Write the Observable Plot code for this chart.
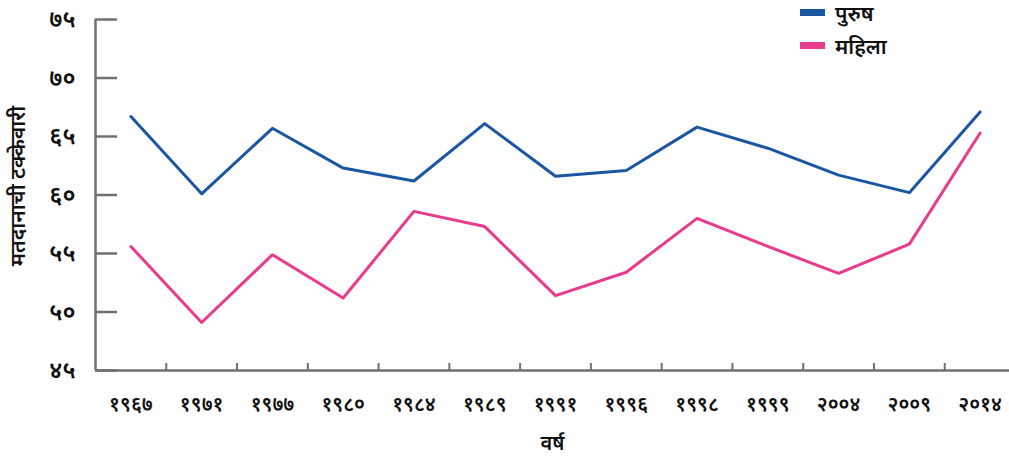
<!DOCTYPE html>
<html>
<head>
<meta charset="utf-8">
<script src="https://cdn.jsdelivr.net/npm/d3@7"></script>
<script src="https://cdn.jsdelivr.net/npm/@observablehq/plot@0.6"></script>
<style>
  html, body { margin: 0; padding: 0; background: #fff; }
  #wrap { position: relative; width: 1009px; height: 457px; font-family: "Noto Sans", "DejaVu Sans", sans-serif; }
  #legend { position: absolute; left: 800px; top: -4px; font-size: 21px; font-weight: 600; color: #111; }
  .item { display: flex; align-items: center; height: 33px; }
  .sw { width: 25px; height: 7px; margin-right: 10px; }
</style>
</head>
<body>
<div id="wrap"><div id="legend"></div></div>
<script>
const years = ["१९६७","१९७१","१९७७","१९८०","१९८४","१९८९","१९९१","१९९६","१९९८","१९९९","२००४","२००९","२०१४"];
const male   = [66.7, 60.1, 65.7, 62.3, 61.2, 66.1, 61.6, 62.1, 65.8, 64.0, 61.7, 60.2, 67.1];
const female = [55.6, 49.1, 54.9, 51.2, 58.6, 57.3, 51.4, 53.4, 58.0, 55.6, 53.3, 55.8, 65.3];
const yTicks = [45, 50, 55, 60, 65, 70, 75];
const yTickLabels = ["४५","५०","५५","६०","६५","७०","७५"];
const seriesNames = ["पुरुष", "महिला"];
const seriesColors = ["#1b56a3", "#ea3a8d"];
const yTitle = "मतदानाची टक्केवारी";
const xTitle = "वर्ष";

const idx = years.map((_, i) => i);
const data = [];
idx.forEach(i => data.push({i, v: male[i], s: seriesNames[0]}));
idx.forEach(i => data.push({i, v: female[i], s: seriesNames[1]}));
const between = idx.slice(0, -1).map(i => i + 0.5);

const axisColor = "#707070";
const chart = Plot.plot({
  width: 1009,
  height: 457,
  marginLeft: 95,
  marginRight: 0,
  marginTop: 19,
  marginBottom: 87,
  style: {fontFamily: "'Noto Sans', 'DejaVu Sans', sans-serif", fontSize: "20px", fontWeight: 600, color: "#111", background: "#fff"},
  x: {domain: [-0.5, years.length - 0.5], range: [95, 1015]},
  y: {domain: [45, 75]},
  color: {domain: seriesNames, range: seriesColors},
  marks: [
    Plot.axisY({ticks: yTicks, tickSize: -22, tickPadding: 42, stroke: axisColor, strokeWidth: 2.5, fontSize: 24,
      tickFormat: d => yTickLabels[yTicks.indexOf(d)], fill: "#111", label: null}),
    Plot.text([yTitle], {frameAnchor: "left", textAnchor: "middle", rotate: -90, dx: -77, dy: -9, fontSize: 21, fill: "#111", text: d => d}),
    Plot.axisX({ticks: between, tickSize: -7, tickFormat: () => "", stroke: axisColor, strokeWidth: 2, label: null}),
    Plot.axisX({ticks: idx, tickSize: 0, tickPadding: 26, tickFormat: d => years[d], fill: "#111",
      label: xTitle, labelAnchor: "center", labelOffset: 79, labelArrow: "none"}),
    Plot.ruleX([-0.5], {stroke: axisColor, strokeWidth: 2.5}),
    Plot.ruleY([45], {stroke: axisColor, strokeWidth: 2.5}),
    Plot.lineY(data, {x: "i", y: "v", z: "s", stroke: "s", strokeWidth: 3})
  ]
});
document.getElementById("wrap").appendChild(chart);

const legend = document.getElementById("legend");
seriesNames.forEach((n, k) => {
  const it = document.createElement("div");
  it.className = "item";
  const sw = document.createElement("span");
  sw.className = "sw";
  sw.style.background = seriesColors[k];
  const t = document.createElement("span");
  t.textContent = n;
  it.appendChild(sw); it.appendChild(t);
  legend.appendChild(it);
});
</script>
</body>
</html>
